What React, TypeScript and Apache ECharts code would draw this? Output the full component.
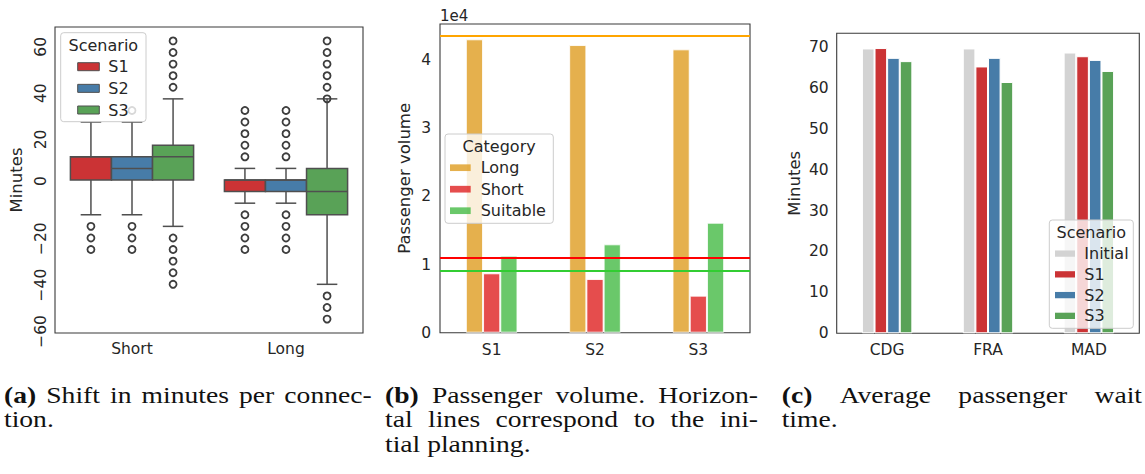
import { useEffect, useRef } from 'react';
import * as echarts from 'echarts';

// ---------- (a) shift in minutes per connection ----------
const shiftCategories = ['Short', 'Long'];
const shiftScenarios = ['S1', 'S2', 'S3'];
// [lower whisker, Q1, median, Q3, upper whisker] for Short, Long
const shiftS1 = [[-15, 0, 10, 10, 25], [-10, -5, 0, 0, 5]];
const shiftS2 = [[-15, 0, 5, 10, 25], [-10, -5, 0, 0, 5]];
const shiftS3 = [[-20, 0, 10, 15, 35], [-45, -15, -5, 5, 35]];
// outliers for Short, Long
const fliersS1 = [[-20, -25, -30], [10, 15, 20, 25, 30, -15, -20, -25, -30]];
const fliersS2 = [[30, -20, -25, -30], [10, 15, 20, 25, 30, -15, -20, -25, -30]];
const fliersS3 = [[40, 45, 50, 55, 60, -25, -30, -35, -40, -45], [35, 40, 45, 50, 55, 60, -50, -55, -60]];
const shiftTicks = [-60, -40, -20, 0, 20, 40, 60];

// ---------- (b) passenger volume ----------
const volumeScenarios = ['S1', 'S2', 'S3'];
const volumeCategories = ['Long', 'Short', 'Suitable'];
const volumeLong = [43020, 42180, 41550];
const volumeShort = [8710, 7870, 5430];
const volumeSuitable = [11290, 12960, 16130];
const initialLong = 43550;
const initialShort = 11000;
const initialSuitable = 9090;
const volumeTicks = [0, 10000, 20000, 30000, 40000];

// ---------- (c) average passenger wait time ----------
const airports = ['CDG', 'FRA', 'MAD'];
const waitScenarios = ['Initial', 'S1', 'S2', 'S3'];
const waitInitial = [69.6, 69.6, 68.6];
const waitS1 = [69.7, 65.2, 67.7];
const waitS2 = [67.3, 67.3, 66.8];
const waitS3 = [66.5, 61.4, 64.1];
const waitTicks = [0, 10, 20, 30, 40, 50, 60, 70];

const TEXT = '#262626';
const FRAME = '#3a3a3a';
const BOX_EDGE = '#4f4f4f';
const SANS = 'DejaVu Sans';
const SERIF = 'Liberation Serif';

const scenarioColors = ['#cb3335', '#477ca8', '#59a257'];
const volumeColors = ['rgba(223,156,32,0.8)', 'rgba(223,32,32,0.8)', 'rgba(69,186,69,0.8)'];
const waitColors = ['#d3d3d3', '#cb3335', '#477ca8', '#59a257'];

const minusFmt = (v: number) => (v < 0 ? '\u2212' + Math.abs(v) : String(v));

function boxRender(slot: number, fill: string) {
  return (_p: any, api: any) => {
    const cat = api.value(0);
    const band = api.size([1, 0])[0];
    const w = (band * 0.8) / 3;
    const cx = api.coord([cat, 0])[0] + (slot - 1) * w;
    const [yLo, yQ1, yMed, yQ3, yHi] = [1, 2, 3, 4, 5].map((d) => api.coord([cat, api.value(d)])[1]);
    const cap = w / 4;
    const ls = { stroke: BOX_EDGE, lineWidth: 1.5 };
    return {
      type: 'group',
      children: [
        { type: 'line', shape: { x1: cx, y1: yQ3, x2: cx, y2: yHi }, style: ls },
        { type: 'line', shape: { x1: cx, y1: yQ1, x2: cx, y2: yLo }, style: ls },
        { type: 'line', shape: { x1: cx - cap, y1: yHi, x2: cx + cap, y2: yHi }, style: ls },
        { type: 'line', shape: { x1: cx - cap, y1: yLo, x2: cx + cap, y2: yLo }, style: ls },
        { type: 'rect', shape: { x: cx - w / 2, y: yQ3, width: w, height: yQ1 - yQ3 }, style: { fill, stroke: BOX_EDGE, lineWidth: 1.5 } },
        { type: 'line', shape: { x1: cx - w / 2, y1: yMed, x2: cx + w / 2, y2: yMed }, style: ls },
      ],
    };
  };
}

function flierRender(slot: number) {
  return (_p: any, api: any) => {
    const cat = api.value(0);
    const band = api.size([1, 0])[0];
    const w = (band * 0.8) / 3;
    const pt = api.coord([cat, api.value(1)]);
    return {
      type: 'circle',
      shape: { cx: pt[0] + (slot - 1) * w, cy: pt[1], r: 3.5 },
      style: { fill: 'none', stroke: '#3d3d3d', lineWidth: 1.8 },
    };
  };
}

// ---------- legends and captions as graphic elements ----------
type LegendSpec = {
  x: number; y: number; w: number; h: number; title: string;
  names: string[]; colors: string[]; firstY: number; step: number;
  patchX: number; patchW: number; patchH: number; textX: number; edge?: string;
};

function legendBlock(s: LegendSpec) {
  const els: any[] = [
    {
      type: 'rect', z: 100,
      shape: { x: s.x, y: s.y, width: s.w, height: s.h, r: 3 },
      style: { fill: 'rgba(255,255,255,0.8)', stroke: '#cccccc', lineWidth: 1 },
    },
    {
      type: 'text', z: 101, x: s.x + s.w / 2, y: s.y + 12.5,
      style: { text: s.title, fontFamily: SANS, fontSize: 16, fill: TEXT, align: 'center', verticalAlign: 'middle' },
    },
  ];
  s.names.forEach((name, i) => {
    const cy = s.firstY + i * s.step;
    els.push({
      type: 'rect', z: 101,
      shape: { x: s.patchX, y: cy - s.patchH / 2, width: s.patchW, height: s.patchH },
      style: { fill: s.colors[i], stroke: s.edge || 'none', lineWidth: s.edge ? 1 : 0 },
    });
    els.push({
      type: 'text', z: 101, x: s.textX, y: cy,
      style: { text: name, fontFamily: SANS, fontSize: 16, fill: TEXT, align: 'left', verticalAlign: 'middle' },
    });
  });
  return els;
}

const CAP_SIZE = 23;
const CAP_SX = 1.2; // horizontal stretch of the caption face
let measureCtx: CanvasRenderingContext2D | null = null;
function measure(text: string, bold: boolean) {
  if (!measureCtx) measureCtx = document.createElement('canvas').getContext('2d');
  measureCtx!.font = `${bold ? 'bold ' : ''}${CAP_SIZE}px '${SERIF}'`;
  return measureCtx!.measureText(text).width * CAP_SX;
}

function capText(text: string, x: number, baseline: number, bold = false) {
  return {
    type: 'text', x, y: baseline - 7.5, scaleX: CAP_SX,
    style: { text, fontFamily: SERIF, fontSize: CAP_SIZE, fontWeight: bold ? 'bold' : 'normal', fill: '#111', align: 'left', verticalAlign: 'middle' },
  };
}

// full-width justified line: first word may be bold
function justified(words: string[], boldFirst: boolean, x0: number, x1: number, baseline: number) {
  const widths = words.map((w, i) => measure(w, boldFirst && i === 0));
  const total = widths.reduce((a, b) => a + b, 0);
  const gap = (x1 - x0 - total) / (words.length - 1);
  const els: any[] = [];
  let x = x0;
  words.forEach((w, i) => {
    els.push(capText(w, x, baseline, boldFirst && i === 0));
    x += widths[i] + gap;
  });
  return els;
}

function buildOption(): any {
  const L1 = 402.5;
  const L2 = 426.8;
  const L3 = 451.5;

  const graphics: any[] = [
    ...legendBlock({
      x: 60.7, y: 32.7, w: 85.3, h: 89, title: 'Scenario', names: shiftScenarios, colors: scenarioColors,
      firstY: 66.7, step: 21.65, patchX: 77.7, patchW: 21.6, patchH: 8, textX: 108.3, edge: BOX_EDGE,
    }),
    ...legendBlock({
      x: 445, y: 134, w: 108.3, h: 89.3, title: 'Category', names: volumeCategories, colors: volumeColors,
      firstY: 167.7, step: 21.5, patchX: 450, patchW: 20.7, patchH: 6.7, textX: 480.7,
    }),
    ...legendBlock({
      x: 1049.3, y: 220, w: 84, h: 108.3, title: 'Scenario', names: waitScenarios, colors: waitColors,
      firstY: 253.6, step: 20.75, patchX: 1055, patchW: 20, patchH: 6.3, textX: 1084.3,
    }),
    {
      type: 'text', x: 440, y: 15.5,
      style: { text: '1e4', fontFamily: SANS, fontSize: 15, fill: TEXT, align: 'left', verticalAlign: 'middle' },
    },
    ...justified(['(a)', 'Shift', 'in', 'minutes', 'per', 'connec-'], true, 4, 371.7, L1),
    capText('tion.', 4, L2),
    ...justified(['(b)', 'Passenger', 'volume.', 'Horizon-'], true, 385, 758, L1),
    ...justified(['tal', 'lines', 'correspond', 'to', 'the', 'ini-'], false, 385, 758, L2),
    capText('tial planning.', 385, L3),
    ...justified(['(c)', 'Average', 'passenger', 'wait'], true, 781.7, 1142, L1),
    capText('time.', 781.7, L2),
  ];

  const tickLabel = { color: TEXT, fontFamily: SANS, fontSize: 15.5 };
  const nameStyle = { color: TEXT, fontFamily: SANS, fontSize: 16.5 };
  const frame = { show: true, borderColor: FRAME, borderWidth: 1.1, backgroundColor: '#fff' };
  const hidden = { axisLine: { show: false }, axisTick: { show: false }, splitLine: { show: false } };

  const boxData = [shiftS1, shiftS2, shiftS3];
  const flierData = [fliersS1, fliersS2, fliersS3];

  const series: any[] = [];
  shiftScenarios.forEach((name, s) => {
    series.push({
      type: 'custom', name, xAxisIndex: 0, yAxisIndex: 0, z: 2,
      itemStyle: { color: scenarioColors[s] },
      encode: { x: 0, y: [1, 2, 3, 4, 5] },
      data: boxData[s].map((v, i) => [i, ...v]),
      renderItem: boxRender(s, scenarioColors[s]),
    });
  });
  shiftScenarios.forEach((name, s) => {
    series.push({
      type: 'custom', name: name + ' outliers', xAxisIndex: 0, yAxisIndex: 0, z: 3,
      encode: { x: 0, y: 1 },
      data: flierData[s].flatMap((vals, i) => vals.map((v) => [i, v])),
      renderItem: flierRender(s),
    });
  });

  const volumeSeries = [volumeLong, volumeShort, volumeSuitable];
  const initialLevels = [initialLong, initialShort, initialSuitable];
  const lineColors = ['#ffa500', '#ff0000', '#32cd32'];
  volumeCategories.forEach((name, k) => {
    series.push({
      type: 'bar', name, xAxisIndex: 1, yAxisIndex: 1,
      data: volumeSeries[k], barWidth: '16.67%', barGap: '0%',
      itemStyle: { color: volumeColors[k], borderColor: 'rgba(255,255,255,0.85)', borderWidth: 1 },
      markLine: {
        silent: true, symbol: 'none', label: { show: false }, z: 5,
        lineStyle: { type: 'solid', width: 2, color: lineColors[k] },
        data: [{ yAxis: initialLevels[k] }],
      },
    });
  });

  const waitSeries = [waitInitial, waitS1, waitS2, waitS3];
  waitScenarios.forEach((name, k) => {
    series.push({
      type: 'bar', name: 'wait ' + name, xAxisIndex: 2, yAxisIndex: 2,
      data: waitSeries[k], barWidth: '12.5%', barGap: '0%',
      itemStyle: { color: waitColors[k], borderColor: '#ffffff', borderWidth: 1 },
    });
  });

  return {
    animation: false,
    backgroundColor: '#ffffff',
    textStyle: { fontFamily: SANS },
    grid: [
      { left: 55, top: 27, width: 308, height: 306, ...frame },
      { left: 440, top: 24, width: 310, height: 308.7, ...frame },
      { left: 836.7, top: 33.3, width: 302.6, height: 300, ...frame },
    ],
    xAxis: [
      { type: 'category', gridIndex: 0, data: shiftCategories, ...hidden, axisLabel: { ...tickLabel, margin: 8 } },
      { type: 'category', gridIndex: 1, data: volumeScenarios, ...hidden, axisLabel: { ...tickLabel, margin: 9 } },
      { type: 'category', gridIndex: 2, data: airports, ...hidden, axisLabel: { ...tickLabel, margin: 9 } },
    ],
    yAxis: [
      {
        type: 'value', gridIndex: 0, min: -66, max: 66, ...hidden,
        name: 'Minutes', nameLocation: 'middle', nameGap: 30, nameTextStyle: nameStyle,
        axisLabel: {
          ...tickLabel, rotate: 90, margin: 6, align: 'right', padding: [0, -4, 0, 0],
          customValues: shiftTicks, formatter: minusFmt,
        },
      },
      {
        type: 'value', gridIndex: 1, min: 0, max: 45264, ...hidden,
        name: 'Passenger volume', nameLocation: 'middle', nameGap: 27, nameTextStyle: nameStyle,
        axisLabel: { ...tickLabel, margin: 9, customValues: volumeTicks, formatter: (v: number) => String(v / 10000) },
      },
      {
        type: 'value', gridIndex: 2, min: 0, max: 73.3, ...hidden,
        name: 'Minutes', nameLocation: 'middle', nameGap: 34, nameTextStyle: nameStyle,
        axisLabel: { ...tickLabel, margin: 8, customValues: waitTicks },
      },
    ],
    series,
    graphic: { elements: graphics },
  };
}

export default function App() {
  const ref = useRef<HTMLDivElement>(null);
  useEffect(() => {
    if (!ref.current) return;
    const chart = echarts.init(ref.current, null, { renderer: 'svg' });
    chart.setOption(buildOption());
    return () => chart.dispose();
  }, []);
  return (
    <div
      ref={ref}
      style={{ position: 'fixed', left: 0, top: 0, width: 1145, height: 474, background: '#fff' }}
    />
  );
}
